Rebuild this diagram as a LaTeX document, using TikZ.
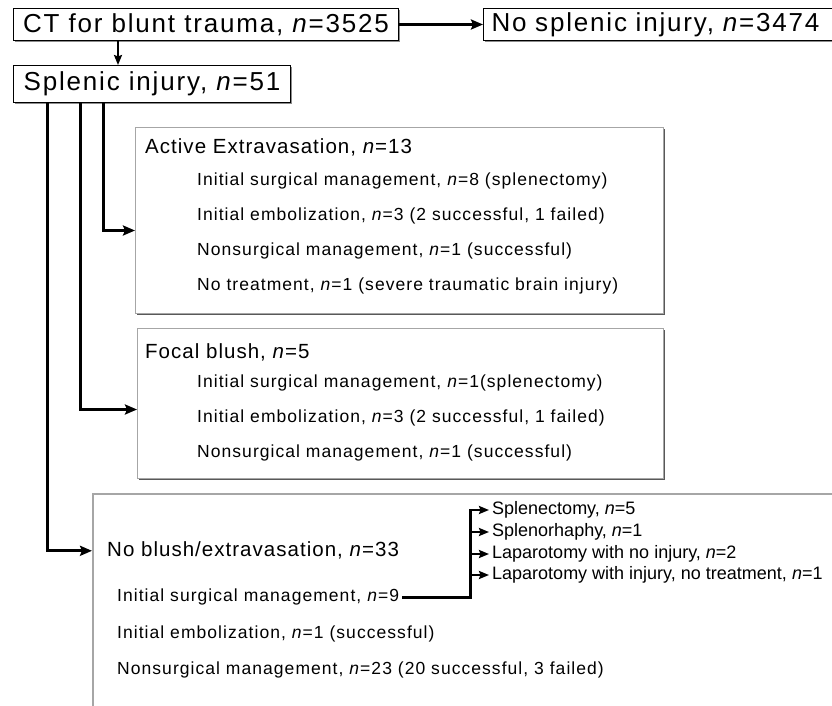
\documentclass[tikz,border=0pt]{standalone}
\usepackage{fontspec}
\setmainfont{Liberation Sans}
\newfontfamily\bigfont[LetterSpace=7]{Liberation Sans}
\newfontfamily\midfont[LetterSpace=5]{Liberation Sans}
\newfontfamily\rowfont[LetterSpace=6]{Liberation Sans}
\usetikzlibrary{arrows.meta,shadows}
\begin{document}
\begin{tikzpicture}[x=1pt,y=-1pt,
  topbox/.style={draw=black, line width=1pt, fill=white, inner sep=0pt,
    drop shadow={shadow xshift=1.2pt, shadow yshift=-1.2pt, fill=black!45, opacity=1},
    font=\bigfont\fontsize{26}{30}\selectfont},
  grbox/.style={draw=black!35, line width=1pt, fill=white, inner sep=0pt,
    drop shadow={shadow xshift=1.6pt, shadow yshift=-1.6pt, fill=black!65, opacity=1}},
  openbox/.style={draw=black!35, line width=1.6pt, fill=white, inner sep=0pt},
  ttl/.style={inner sep=0pt, anchor=west, font=\midfont\fontsize{20.5}{24}\selectfont},
  row/.style={inner sep=0pt, anchor=west, font=\rowfont\fontsize{17.5}{20}\selectfont},
  sub/.style={inner xsep=3pt, inner ysep=0pt, anchor=west, font=\fontsize{18}{21}\selectfont},
  arr/.style={line width=3pt, -{Stealth[length=12pt,width=10pt,inset=2pt]}},
  arrthin/.style={line width=2pt, -{Stealth[length=10pt,width=8pt,inset=1.5pt]}},
  arrsm/.style={line width=2.4pt, -{Stealth[length=10pt,width=8pt,inset=1.5pt]}},
  brline/.style={line width=3pt}
]
\useasboundingbox (0,0) rectangle (832,706);
\clip (0,0) rectangle (832,706);

% top boxes
\node[topbox, anchor=north west, minimum width=385pt, minimum height=32pt] (ct) at (13,8)
  {CT for blunt trauma, \textit{n}=3525};
\node[topbox, anchor=north west, minimum width=400pt, minimum height=32pt,
  inner xsep=8pt, text width=384pt, align=left] (ns) at (483,8)
  {No splenic injury, \textit{n}=3474};
\node[topbox, anchor=north west, minimum width=277pt, minimum height=37pt] (si) at (13,65)
  {Splenic injury, \textit{n}=51};

% Active extravasation box
\node[grbox, anchor=north west, minimum width=528pt, minimum height=186pt] (act) at (135,127) {};
\node[ttl] (actt) at (145,147) {Active Extravasation, \textit{n}=13};
\node[row] (a1) at (197,181) {Initial surgical management, \textit{n}=8 (splenectomy)};
\node[row] (a2) at (197,216) {Initial embolization, \textit{n}=3 (2 successful, 1 failed)};
\node[row] (a3) at (197,251) {Nonsurgical management, \textit{n}=1 (successful)};
\node[row] (a4) at (197,286) {No treatment, \textit{n}=1 (severe traumatic brain injury)};

% Focal blush box
\node[grbox, anchor=north west, minimum width=526pt, minimum height=150pt] (foc) at (137,328) {};
\node[ttl] (foct) at (145,352) {Focal blush, \textit{n}=5};
\node[row] (f1) at (197,383) {Initial surgical management, \textit{n}=1(splenectomy)};
\node[row] (f2) at (197,418) {Initial embolization, \textit{n}=3 (2 successful, 1 failed)};
\node[row] (f3) at (197,453) {Nonsurgical management, \textit{n}=1 (successful)};

% No blush box (cut off at right and bottom)
\node[openbox, anchor=north west, minimum width=780pt, minimum height=260pt] (nb) at (92,493) {};
\node[ttl] (nbt) at (107,550) {No blush/extravasation, \textit{n}=33};
\node[row] (r9) at (117,597) {Initial surgical management, \textit{n}=9};
\node[row] (r1) at (117,634) {Initial embolization, \textit{n}=1 (successful)};
\node[row] (r23) at (117,670) {Nonsurgical management, \textit{n}=23 (20 successful, 3 failed)};

\node[sub] (s1) at (489,510) {Splenectomy, \textit{n}=5};
\node[sub] (s2) at (489,532) {Splenorhaphy, \textit{n}=1};
\node[sub] (s3) at (489,554) {Laparotomy with no injury, \textit{n}=2};
\node[sub] (s4) at (489,575) {Laparotomy with injury, no treatment, \textit{n}=1};

% connectors
\draw[arr] (ct.east) -- (ns.west);
\draw[arrthin] ([xshift=105pt]ct.south west) -- ([xshift=105pt]si.north west);
\draw[arr] ([xshift=90pt]si.south west) |- ([yshift=-10pt]act.west);
\draw[arr] ([xshift=67pt]si.south west) |- ([yshift=-6pt]foc.west);
\draw[arr] ([xshift=34pt]si.south west) |- ([yshift=73pt]nb.west);

\coordinate (br) at (470,597);
\draw[brline] ([xshift=3pt]r9.east) -- (br) -- ([yshift=1.5pt]br |- s1.west);
\foreach \s in {s1,s2,s3,s4}
  \draw[arrsm] (br |- \s.west) -- (\s.west);
\end{tikzpicture}
\end{document}
